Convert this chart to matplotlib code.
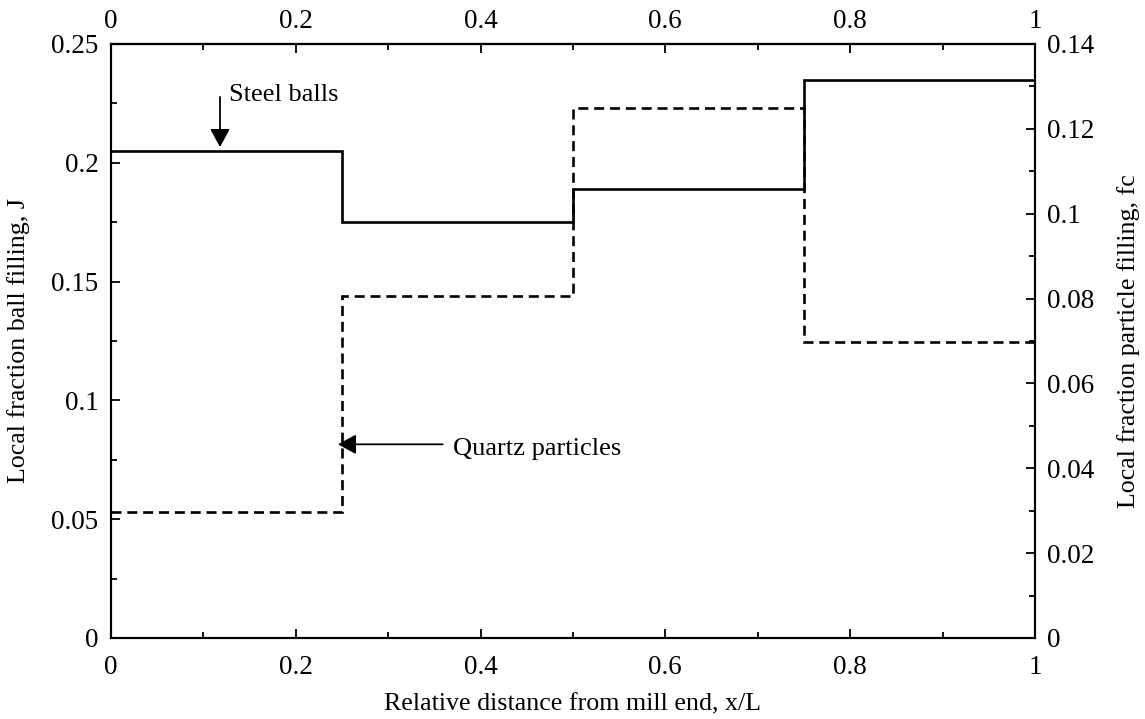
import matplotlib
matplotlib.use("Agg")
import matplotlib.pyplot as plt
from matplotlib.ticker import MultipleLocator

# axial profile along the mill, four equal sections
edges = [0.0, 0.25, 0.5, 0.75, 1.0]
ball_filling = [0.205, 0.175, 0.189, 0.235]       # J, left axis
particle_filling = [0.0296, 0.0807, 0.125, 0.0697]  # fc, right axis

x_ticks = [0, 0.2, 0.4, 0.6, 0.8, 1]
x_ticklabels = ["0", "0.2", "0.4", "0.6", "0.8", "1"]
j_ticks = [0, 0.05, 0.1, 0.15, 0.2, 0.25]
j_ticklabels = ["0", "0.05", "0.1", "0.15", "0.2", "0.25"]
fc_ticks = [0, 0.02, 0.04, 0.06, 0.08, 0.1, 0.12, 0.14]
fc_ticklabels = ["0", "0.02", "0.04", "0.06", "0.08", "0.1", "0.12", "0.14"]

plt.rcParams["font.family"] = ["Liberation Serif", "DejaVu Serif"]
plt.rcParams["font.size"] = 19.5

fig = plt.figure(figsize=(11.45, 7.19), dpi=100)
ax = fig.add_axes([0.0969, 0.1127, 0.8070, 0.8262])
ax2 = ax.twinx()

lw = 1.9
ax.stairs(ball_filling, edges, baseline=None, color="black", linewidth=lw)
ax2.stairs(particle_filling, edges, baseline=None, color="black",
           linewidth=lw, linestyle=(0, (3.8, 2.2)))

ax.set_xlim(0, 1)
ax.set_ylim(0, 0.25)
ax2.set_ylim(0, 0.14)

ax.set_xticks(x_ticks)
ax.set_xticklabels(x_ticklabels)
ax.set_yticks(j_ticks)
ax.set_yticklabels(j_ticklabels)
ax2.set_yticks(fc_ticks)
ax2.set_yticklabels(fc_ticklabels)
ax.xaxis.set_minor_locator(MultipleLocator(0.1))
ax.yaxis.set_minor_locator(MultipleLocator(0.025))
ax2.yaxis.set_minor_locator(MultipleLocator(0.01))

# top axis repeats x with its own label spacing
top = ax.secondary_xaxis("top")
top.set_xticks(x_ticks)
top.set_xticklabels(x_ticklabels)
top.xaxis.set_minor_locator(MultipleLocator(0.1))
top.tick_params(which="both", direction="in", pad=7.5, width=1.3)
top.tick_params(which="major", length=6.5)
top.tick_params(which="minor", length=4.3)
top.spines["top"].set_linewidth(1.5)

for a in (ax, ax2):
    for s in a.spines.values():
        s.set_linewidth(1.5)
ax.tick_params(axis="x", which="both", direction="in", top=False, bottom=True,
               labeltop=False, labelbottom=True, pad=12, width=1.3)
ax.tick_params(axis="y", which="both", direction="in", left=True, right=False,
               pad=9, width=1.3)
ax2.tick_params(axis="y", which="both", direction="in", pad=9, width=1.3)
for a in (ax, ax2):
    a.tick_params(which="major", length=6.5)
    a.tick_params(which="minor", length=4.3)

label_size = 18.7
ax.set_xlabel("Relative distance from mill end, x/L", fontsize=label_size)
ax.set_ylabel("Local fraction ball filling, J", fontsize=label_size)
ax2.set_ylabel("Local fraction particle filling, fc", fontsize=label_size)
ax.xaxis.set_label_coords(0.5, -0.094)
ax.yaxis.set_label_coords(-0.0877, 0.5)
ax2.yaxis.set_label_coords(1.0887, 0.5)

arrow = dict(arrowstyle="-|>,head_length=0.55,head_width=0.3",
             color="black", linewidth=1.3, mutation_scale=20,
             shrinkA=0, shrinkB=0)
ax.annotate("", xy=(0.118, 0.2066), xytext=(0.118, 0.2277), arrowprops=arrow)
ax.text(0.128, 0.2285, "Steel balls", fontsize=19, va="center", ha="left")
ax.annotate("", xy=(0.2457, 0.0815), xytext=(0.359, 0.0815), arrowprops=arrow)
ax.text(0.370, 0.0795, "Quartz particles", fontsize=19, va="center", ha="left")

fig.savefig("out.png", dpi=100)
